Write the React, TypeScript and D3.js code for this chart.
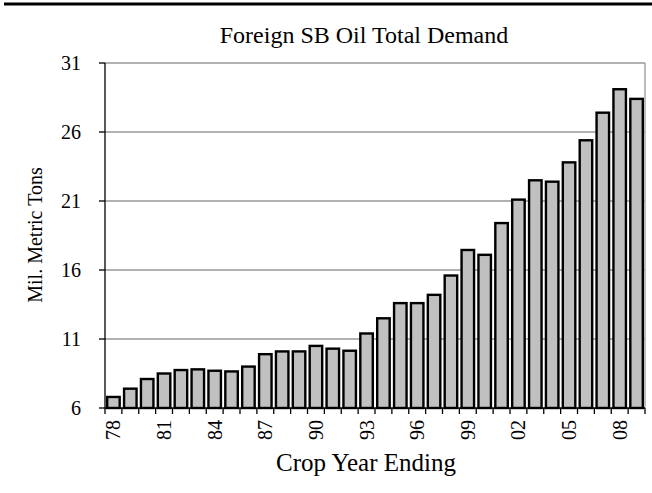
import React from "react";
import * as d3 from "d3";

const years = ["78","79","80","81","82","83","84","85","86","87","88","89","90","91","92","93","94","95","96","97","98","99","00","01","02","03","04","05","06","07","08","09"];
const demand = [6.8,7.4,8.1,8.5,8.75,8.8,8.7,8.65,9.0,9.9,10.1,10.1,10.5,10.3,10.15,11.4,12.5,13.6,13.6,14.2,15.6,17.45,17.1,19.4,21.1,22.5,22.4,23.8,25.4,27.4,29.1,28.4];
const yTicks = [6, 11, 16, 21, 26, 31];
const labeledYears = ["78","81","84","87","90","93","96","99","02","05","08"];

const W = 652, H = 493;
const left = 105, right = 645, top = 63, bottom = 408;
const font = "'Liberation Serif', 'Times New Roman', serif";

export default function App() {
  const x = d3.scaleBand<string>().domain(years).range([left, right]).paddingInner(0.26).paddingOuter(0.13);
  const y = d3.scaleLinear().domain([6, 31]).range([bottom, top]);
  const boundaries = d3.range(years.length + 1).map(i => left + i * ((right - left) / years.length));

  return (
    <svg width={W} height={H} style={{ position: "absolute", left: 0, top: 0, background: "#fff" }} fontFamily={font}>
      <rect x={0} y={0} width={W} height={H} fill="#fff" />
      <line x1={4} x2={W} y1={4} y2={4} stroke="#000" strokeWidth={3} />
      <text x={364} y={43} textAnchor="middle" fontSize={24} fill="#000">Foreign SB Oil Total Demand</text>

      {yTicks.filter(t => t !== 6).map(t => (
        <line key={"g" + t} x1={left} x2={right} y1={y(t)} y2={y(t)} stroke="#999" strokeWidth={1.3} />
      ))}
      <line x1={right} x2={right} y1={top} y2={bottom} stroke="#999" strokeWidth={1.3} />

      {years.map((yr, i) => (
        <rect key={yr} x={x(yr)!} y={y(demand[i])} width={x.bandwidth()} height={y(6) - y(demand[i])}
          fill="#c0c0c0" stroke="#000" strokeWidth={2.4} />
      ))}

      <line x1={left} x2={left} y1={top} y2={bottom} stroke="#000" strokeWidth={1.3} />
      <line x1={left} x2={right} y1={bottom} y2={bottom} stroke="#000" strokeWidth={1.3} />
      {yTicks.map(t => (
        <g key={"t" + t}>
          <line x1={left - 6} x2={left} y1={y(t)} y2={y(t)} stroke="#000" strokeWidth={1.3} />
          <text x={81} y={y(t)} dy="0.35em" textAnchor="end" fontSize={20} fill="#000">{t}</text>
        </g>
      ))}
      {boundaries.map((b, i) => (
        <line key={"b" + i} x1={b} x2={b} y1={bottom} y2={bottom + 6} stroke="#000" strokeWidth={1.3} />
      ))}
      {labeledYears.map(yr => {
        const cx = (x(yr)! + x.bandwidth() / 2);
        return (
          <text key={"l" + yr} transform={`translate(${cx},420) rotate(-90)`} textAnchor="end" dy="0.35em" fontSize={20} fill="#000">{yr}</text>
        );
      })}
      <text transform={`translate(35,235) rotate(-90)`} textAnchor="middle" dy="0.35em" fontSize={20} fill="#000">Mil. Metric Tons</text>
      <text x={366} y={471} textAnchor="middle" fontSize={25} fill="#000">Crop Year Ending</text>
    </svg>
  );
}
